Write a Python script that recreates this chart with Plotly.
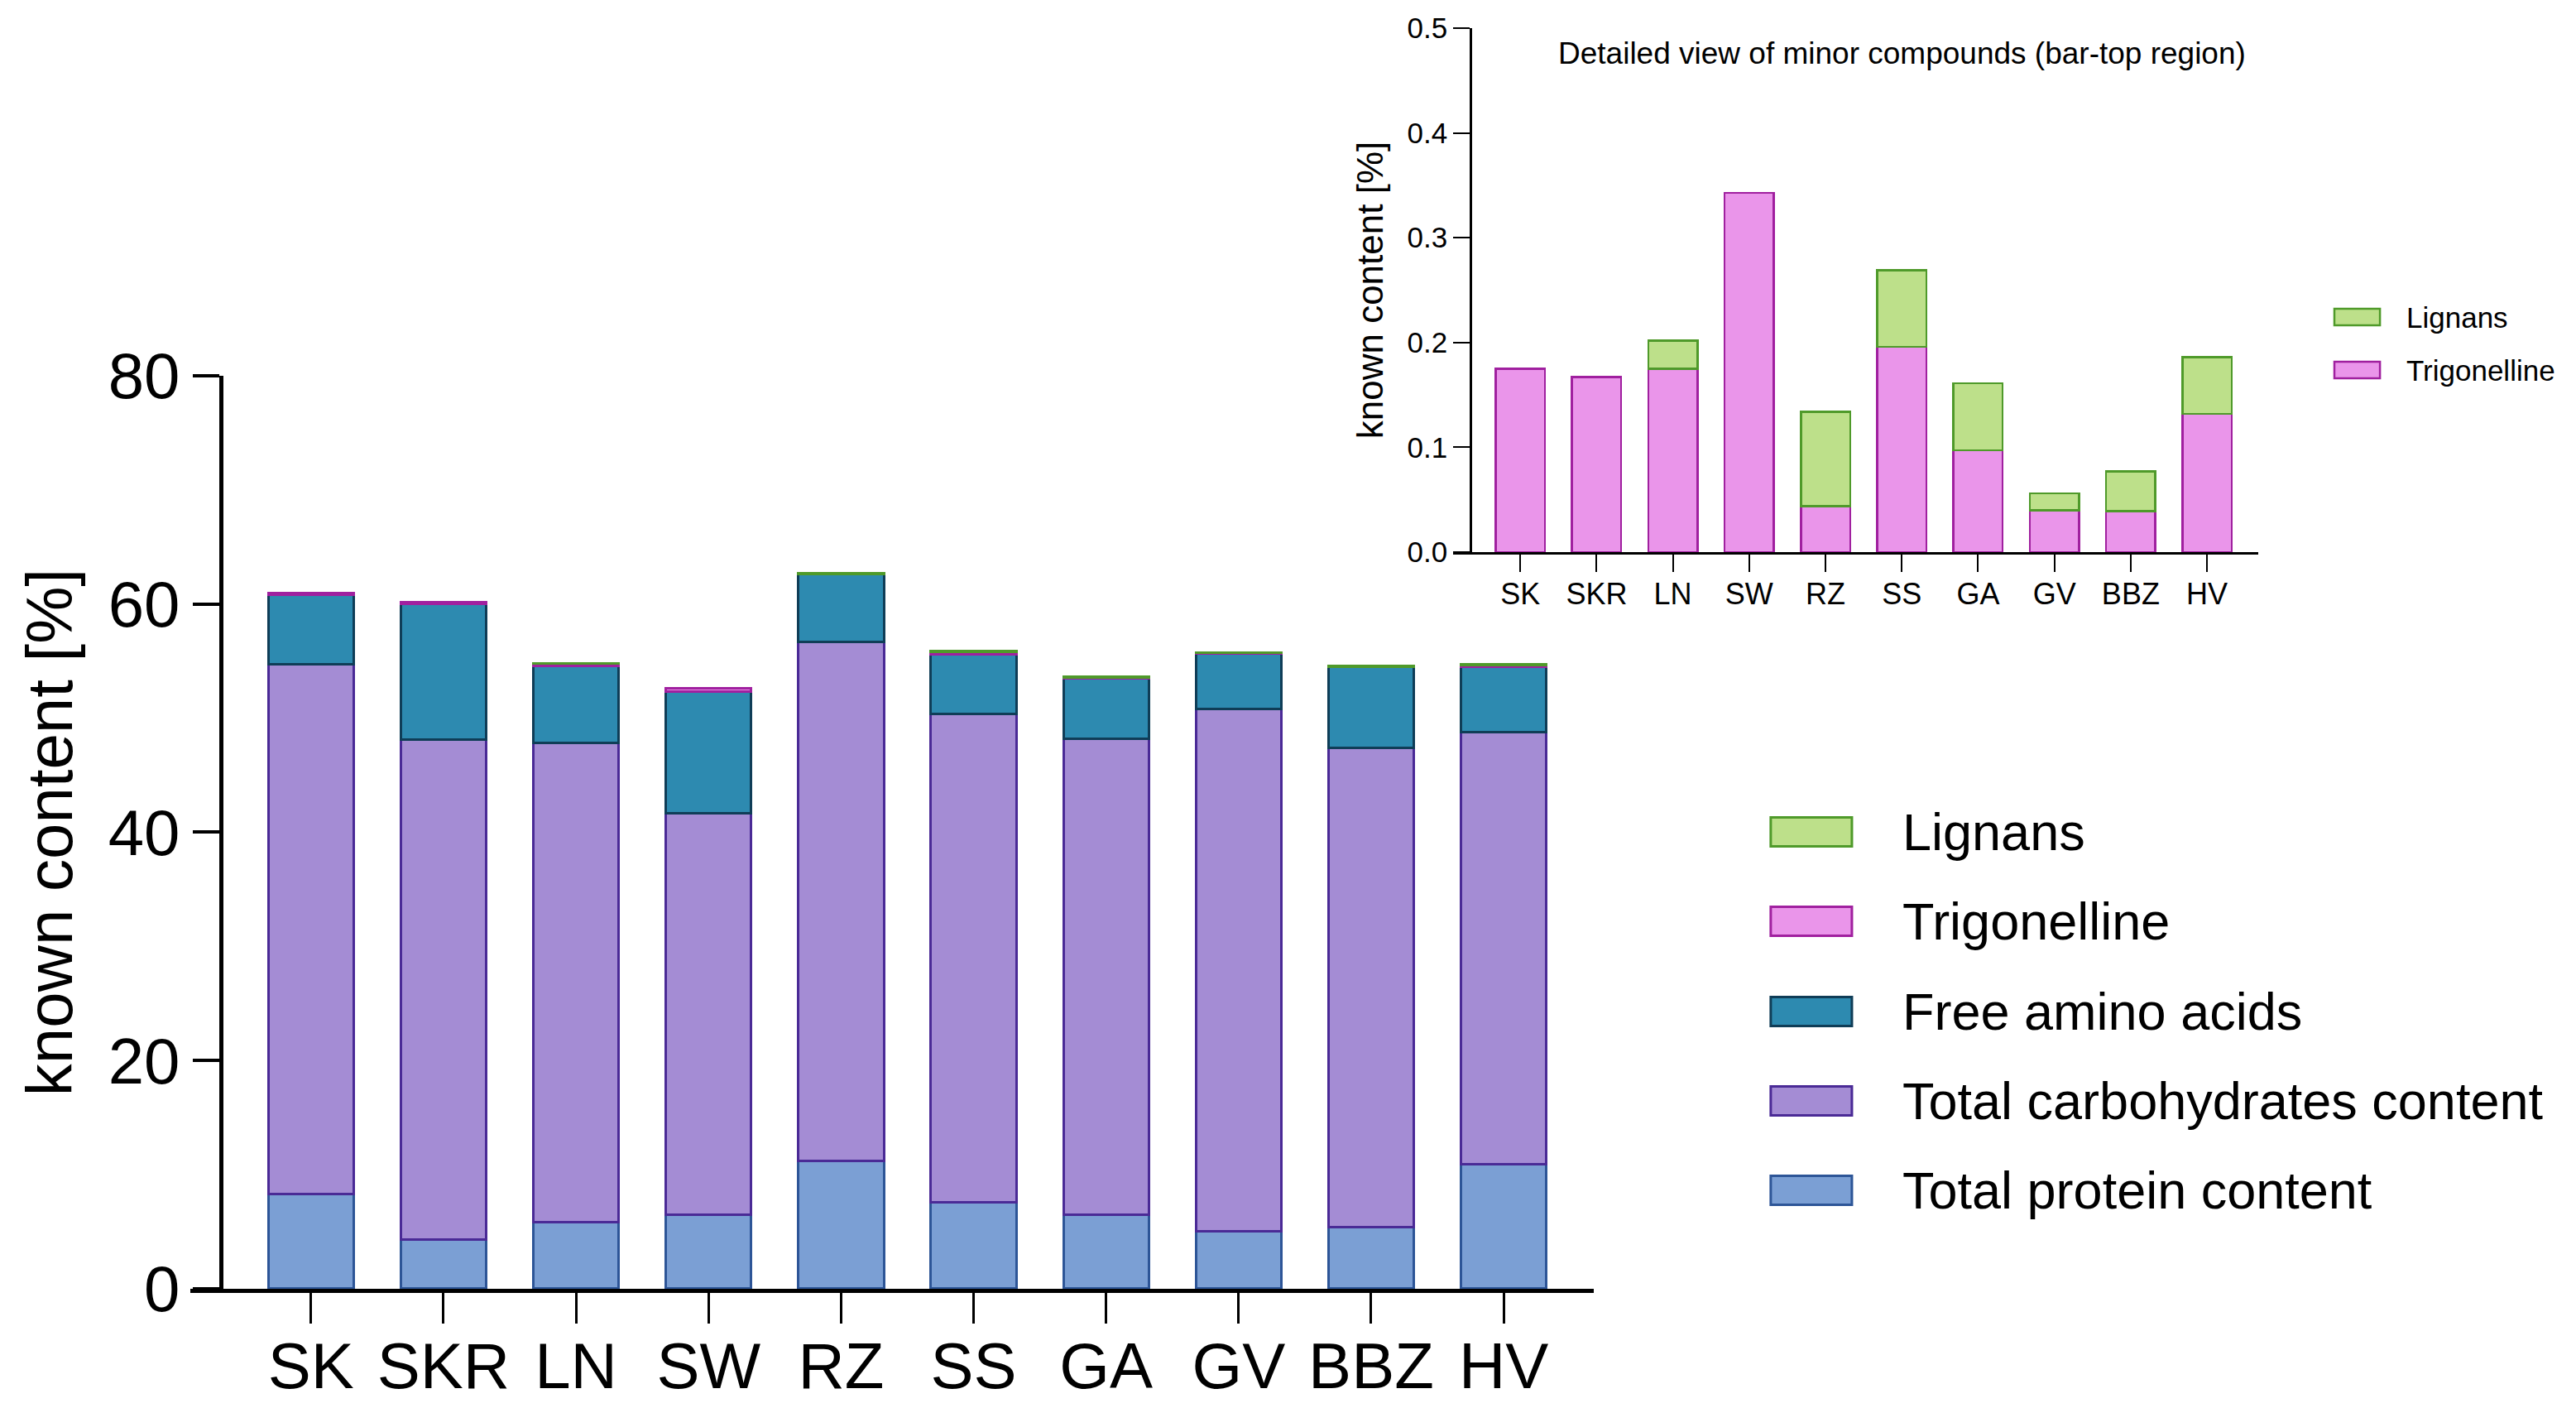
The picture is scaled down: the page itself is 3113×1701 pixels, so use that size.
import plotly.graph_objects as go

# samples and composition (% of dry matter)
samples = ["SK", "SKR", "LN", "SW", "RZ", "SS", "GA", "GV", "BBZ", "HV"]
protein = [8.3, 4.3, 5.8, 6.5, 11.2, 7.6, 6.5, 5.0, 5.4, 10.9]
carbs = [46.4, 43.8, 42.0, 35.2, 45.5, 42.8, 41.7, 45.8, 42.0, 37.9]
amino = [6.1, 11.9, 6.8, 10.6, 5.9, 5.2, 5.3, 4.9, 7.1, 5.7]
trigonelline = [0.175, 0.167, 0.175, 0.343, 0.044, 0.196, 0.097, 0.040, 0.039, 0.132]
# no lignans detected in SK, SKR, SW
lignans = [None, None, 0.027, None, 0.090, 0.073, 0.064, 0.016, 0.038, 0.054]

main_ticks = [0, 20, 40, 60, 80]
inset_ticks = [0.0, 0.1, 0.2, 0.3, 0.4, 0.5]

FONT = "Liberation Sans, Arial, sans-serif"

# the html page adds an 8px body margin, compensate in paper coords
DX = -8 / 3113
DY = 8 / 1701

# name, values, fill, outline  (bottom -> top of the stack)
series = [
    ("Total protein content", protein, "#7b9fd4", "#2d5597"),
    ("Total carbohydrates content", carbs, "#a48cd4", "#4a2a96"),
    ("Free amino acids", amino, "#2d8ab0", "#0f3d57"),
    ("Trigonelline", trigonelline, "#ea95ea", "#a0209f"),
    ("Lignans", lignans, "#bde08a", "#4f9a2a"),
]
minor = series[3:]

fig = go.Figure()

for name, vals, fill, edge in series:
    fig.add_bar(x=samples, y=vals, name=name, xaxis="x", yaxis="y",
                marker=dict(color=fill, line=dict(color=edge, width=3)),
                showlegend=False)

for name, vals, fill, edge in minor:
    fig.add_bar(x=samples, y=vals, name=name, xaxis="x2", yaxis="y2",
                marker=dict(color=fill, line=dict(color=edge, width=2.5)),
                showlegend=False)

# hand-made legends (wide boxes like the original)
legend_main = list(reversed(series))
main_rows = [0.4092, 0.3457, 0.2816, 0.2181, 0.1546]
for (name, vals, fill, edge), yc in zip(legend_main, main_rows):
    yc += DY
    fig.add_shape(type="rect", xref="paper", yref="paper",
                  x0=0.6874 + DX, x1=0.7189 + DX, y0=yc - 0.0103, y1=yc + 0.0103,
                  fillcolor=fill, line=dict(color=edge, width=3))
    fig.add_annotation(text=name, xref="paper", yref="paper", x=0.7379 + DX, y=yc,
                       xanchor="left", yanchor="middle", showarrow=False,
                       font=dict(size=63, color="black", family=FONT))

legend_minor = list(reversed(minor))
minor_rows = [0.7748, 0.7372]
for (name, vals, fill, edge), yc in zip(legend_minor, minor_rows):
    yc += DY
    fig.add_shape(type="rect", xref="paper", yref="paper",
                  x0=0.9062 + DX, x1=0.9239 + DX, y0=yc - 0.0059, y1=yc + 0.0059,
                  fillcolor=fill, line=dict(color=edge, width=2.5))
    fig.add_annotation(text=name, xref="paper", yref="paper", x=0.9335 + DX, y=yc,
                       xanchor="left", yanchor="middle", showarrow=False,
                       font=dict(size=35, color="black", family=FONT))

fig.add_annotation(text="Detailed view of minor compounds (bar-top region)",
                   xref="paper", yref="paper", x=0.7385 + DX, y=0.962 + DY,
                   xanchor="center", yanchor="middle", showarrow=False,
                   font=dict(size=37, color="black", family=FONT))

fig.update_layout(
    width=3113, height=1701,
    margin=dict(l=0, r=0, t=0, b=0),
    paper_bgcolor="white", plot_bgcolor="white",
    barmode="stack", bargap=0.355,
    font=dict(family=FONT, color="black"),
    xaxis=dict(domain=[0.0739 + DX, 0.6187 + DX], anchor="y", range=[-0.91, 9.68],
               automargin=False,
               showline=True, linecolor="black", linewidth=5,
               ticks="outside", ticklen=37, tickwidth=3, tickcolor="black",
               ticklabelstandoff=-16,
               tickfont=dict(size=78), showgrid=False, zeroline=False),
    yaxis=dict(domain=[0.0847 + DY, 0.7331 + DY], anchor="free", position=0.0858 + DX,
               range=[0, 80], tickvals=main_ticks, automargin=False,
               showline=True, linecolor="black", linewidth=5,
               ticks="outside", ticklen=32, tickwidth=4, tickcolor="black",
               tickfont=dict(size=78), showgrid=False, zeroline=False,
               title=dict(text="known content [%]", font=dict(size=78), standoff=16)),
    xaxis2=dict(domain=[0.5641 + DX, 0.8766 + DX], anchor="y2", range=[-0.88, 9.67],
                automargin=False,
                showline=True, linecolor="black", linewidth=2.5,
                ticks="outside", ticklen=21, tickwidth=2, tickcolor="black",
                ticklabelstandoff=-4,
                tickfont=dict(size=36), showgrid=False, zeroline=False),
    yaxis2=dict(domain=[0.6079 + DY, 0.98 + DY], anchor="free", position=0.5708 + DX,
                range=[0, 0.5], tickvals=inset_ticks, tickformat=".1f",
                automargin=False,
                showline=True, linecolor="black", linewidth=2.5,
                ticks="outside", ticklen=20, tickwidth=2, tickcolor="black",
                tickfont=dict(size=35), showgrid=False, zeroline=False,
                title=dict(text="known content [%]", font=dict(size=44), standoff=14)),
)

fig.write_html("out.html")
